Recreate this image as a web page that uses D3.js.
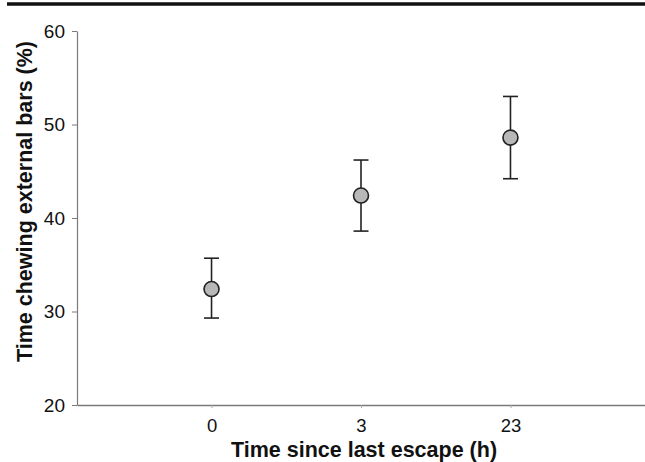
<!DOCTYPE html>
<html>
<head>
<meta charset="utf-8">
<script src="https://cdn.jsdelivr.net/npm/d3@7"></script>
<style>
  body { margin: 0; background: #fff; }
  svg { display: block; font-family: "Liberation Sans", Arial, sans-serif; }
</style>
</head>
<body>
<svg width="645" height="462"></svg>
<script>
// data
var categories = ["0", "3", "23"];
var means = [32.4, 42.4, 48.6];
var upper = [35.7, 46.2, 53.0];
var lower = [29.3, 38.6, 44.2];
var yTicks = [20, 30, 40, 50, 60];

var svg = d3.select("svg"),
    width = +svg.attr("width"),
    height = +svg.attr("height");

var x0 = 77, x1 = 645, yTop = 31, yBot = 405;

var x = d3.scalePoint().domain(categories).range([x0, x1]).padding(0.9);
var y = d3.scaleLinear().domain([20, 60]).range([yBot, yTop]);

// rule across the top of the page
svg.append("line")
    .attr("x1", 7).attr("x2", width)
    .attr("y1", 4).attr("y2", 4)
    .attr("stroke", "#111").attr("stroke-width", 3.5);

// y axis
var yAxis = svg.append("g")
    .attr("transform", "translate(" + x0 + ",0)")
    .call(d3.axisLeft(y).tickValues(yTicks).tickSize(5).tickSizeOuter(0).tickPadding(7));
yAxis.select(".domain").attr("stroke", "#7a7a7a").attr("stroke-width", 1.2);
yAxis.selectAll(".tick line").attr("stroke", "#7a7a7a");
yAxis.selectAll(".tick text").attr("font-size", 19).attr("fill", "#111").attr("font-family", null);

// x axis
var xAxis = svg.append("g")
    .attr("transform", "translate(0," + yBot + ")")
    .call(d3.axisBottom(x).tickSize(3).tickSizeOuter(0).tickPadding(11));
xAxis.select(".domain").attr("stroke", "#7a7a7a").attr("stroke-width", 1.5);
xAxis.selectAll(".tick line").attr("stroke", "#aaa");
xAxis.selectAll(".tick text").attr("font-size", 18.5).attr("fill", "#111").attr("font-family", null);

// axis titles
svg.append("text")
    .attr("transform", "translate(31.5,201.5) rotate(-90)")
    .attr("text-anchor", "middle")
    .attr("font-size", 21.5).attr("font-weight", "bold").attr("fill", "#111")
    .text("Time chewing external bars (%)");

svg.append("text")
    .attr("x", 364).attr("y", 457)
    .attr("text-anchor", "middle")
    .attr("font-size", 21.5).attr("font-weight", "bold").attr("fill", "#111")
    .text("Time since last escape (h)");

// error bars and points
var pts = svg.append("g").selectAll("g")
    .data(categories).enter().append("g");

pts.append("line")
    .attr("x1", function(d) { return x(d); })
    .attr("x2", function(d) { return x(d); })
    .attr("y1", function(d, i) { return y(upper[i]); })
    .attr("y2", function(d, i) { return y(lower[i]); })
    .attr("stroke", "#222").attr("stroke-width", 1.6);

[upper, lower].forEach(function(arr) {
    pts.append("line")
        .attr("x1", function(d) { return x(d) - 7.5; })
        .attr("x2", function(d) { return x(d) + 7.5; })
        .attr("y1", function(d, i) { return y(arr[i]); })
        .attr("y2", function(d, i) { return y(arr[i]); })
        .attr("stroke", "#222").attr("stroke-width", 1.6);
});

pts.append("circle")
    .attr("cx", function(d) { return x(d); })
    .attr("cy", function(d, i) { return y(means[i]); })
    .attr("r", 7.5)
    .attr("fill", "#b8b8b8")
    .attr("stroke", "#222").attr("stroke-width", 1.6);
</script>
</body>
</html>
